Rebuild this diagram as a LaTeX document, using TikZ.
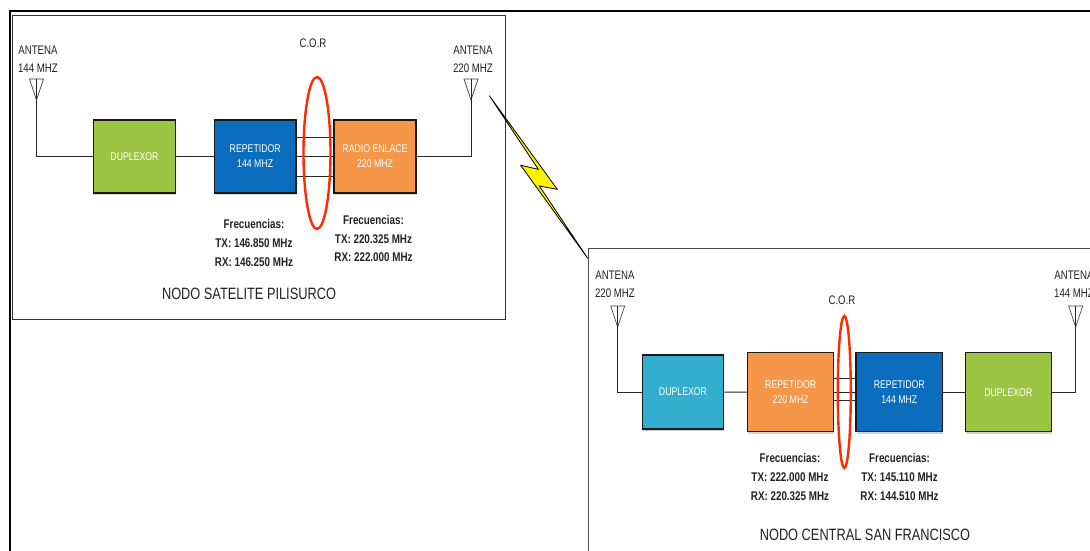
\documentclass[tikz,border=0pt]{standalone}
\usepackage{fontspec}
\setmainfont{Liberation Sans}[FakeStretch=0.78]
\usetikzlibrary{shadows}
\definecolor{bgreen}{HTML}{9DC544}
\definecolor{bblue}{HTML}{0B6DBE}
\definecolor{borange}{HTML}{F69649}
\definecolor{bcyan}{HTML}{33AECF}
\definecolor{cred}{HTML}{FF2A00}
\definecolor{txt}{HTML}{222222}
\tikzset{
  block/.style={draw=black!90,line width=1.2pt,inner sep=0pt,text=white,align=center,
    font=\fontsize{11.2}{15}\selectfont,
    drop shadow={shadow xshift=0.7pt,shadow yshift=-2pt,opacity=.35}},
  wire/.style={draw=black!85,line width=1pt},
  ant/.style={draw=black!75,line width=.7pt},
  cor/.style={draw=cred,line width=2.4pt,fill=none},
  lab/.style={text=txt,align=center,inner sep=0pt,font=\fontsize{12.4}{18.3}\selectfont},
  freq/.style={text=txt,align=center,inner sep=0pt,font=\fontsize{12.6}{18.8}\selectfont\bfseries},
  title/.style={text=txt,inner sep=0pt,font=\fontsize{16.4}{18}\selectfont},
}
\begin{document}
\begin{tikzpicture}[x=1pt,y=-1pt]
\useasboundingbox (0,0) rectangle (1090,551);
\clip (0,0) rectangle (1090,551);
\fill[white] (0,0) rectangle (1090,551);
% frames
\draw[black,line width=2pt] (10,560) -- (10,11.5) -- (1100,11.5);
\draw[black!80,line width=.9pt] (12.5,15) rectangle (505.5,319.5);
\draw[black!70,line width=.9pt] (588,560) -- (588,248) -- (1100,248);
% lightning
\coordinate (ltop) at (489.3,95.7);
\coordinate (lbot) at (587.7,258.3);
\filldraw[fill=yellow,draw=black,line width=.8pt,line join=miter]
  (ltop) -- (557.3,189.3) -- (539.3,186) -- (lbot) -- (520.7,165.3) -- (538.3,169.3) -- cycle;
% blocks
\node[block,fill=bgreen,minimum width=82pt,minimum height=73pt] (d1) at (134.5,156.5) {DUPLEXOR};
\node[block,fill=bblue,minimum width=81.5pt,minimum height=73pt] (r1) at (255.2,156.5) {REPETIDOR\\144 MHZ};
\node[block,fill=borange,minimum width=82pt,minimum height=73pt] (e1) at (375,156.5) {RADIO ENLACE\\220 MHZ};
\node[block,fill=bcyan,minimum width=81.5pt,minimum height=74pt] (d2) at (683,392) {DUPLEXOR};
\node[block,fill=borange,minimum width=86pt,minimum height=79pt] (r2) at (790.7,392.2) {REPETIDOR\\220 MHZ};
\node[block,fill=bblue,minimum width=86.7pt,minimum height=79pt] (r3) at (899.3,392.2) {REPETIDOR\\144 MHZ};
\node[block,fill=bgreen,minimum width=86pt,minimum height=79pt] (d3) at (1008.3,392.2) {DUPLEXOR};
% antennas
\coordinate (a1) at (36.5,79); \coordinate (a2) at (471,79);
\coordinate (a3) at (617.7,306); \coordinate (a4) at (1075.7,306);
\foreach \a in {a1,a2,a3,a4}{
  \draw[ant] ([xshift=-7pt]\a) -- ([xshift=7pt]\a) -- ([yshift=-21pt]\a) -- cycle;
}
% wires
\draw[wire] (a1) |- (d1.west);
\draw[wire] (d1.east) -- (r1.west);
\draw[wire] (a2) |- (e1.east);
\draw[wire] ([yshift=19.5pt]r1.east) -- ([yshift=19.5pt]e1.west);
\draw[wire] (r1.east) -- (e1.west);
\draw[wire] ([yshift=-20pt]r1.east) -- ([yshift=-20pt]e1.west);
\draw[wire] (a3) |- (d2.west);
\draw[wire] (d2.east) -- (r2.west);
\draw[wire] ([yshift=14pt]r2.east) -- ([yshift=14pt]r3.west);
\draw[wire] (r2.east) -- (r3.west);
\draw[wire] ([yshift=-8.5pt]r2.east) -- ([yshift=-8.5pt]r3.west);
\draw[wire] (r3.east) -- (d3.west);
\draw[wire] (a4) |- (d3.east);
% ellipses
\draw[cor] (317,153) ellipse [x radius=13.5pt,y radius=76pt];
\draw[cor] (844.3,392) ellipse [x radius=6.5pt,y radius=76pt];
% labels
\node[lab] (t1) at (38,59) {ANTENA\\144 MHZ};
\node[lab] (t2) at (473,59) {ANTENA\\220 MHZ};
\node[lab] (t3) at (313,43) {C.O.R};
\node[lab] (t4) at (615,284) {ANTENA\\220 MHZ};
\node[lab] (t5) at (1074,284) {ANTENA\\144 MHZ};
\node[lab] (t6) at (842,300) {C.O.R};
\node[freq] (f1) at (254,243) {Frecuencias:\\TX: 146.850 MHz\\RX: 146.250 MHz};
\node[freq] (f2) at (373.5,238.5) {Frecuencias:\\TX: 220.325 MHz\\RX: 222.000 MHz};
\node[freq] (f3) at (790,477) {Frecuencias:\\TX: 222.000 MHz\\RX: 220.325 MHz};
\node[freq] (f4) at (899.5,477) {Frecuencias:\\TX: 145.110 MHz\\RX: 144.510 MHz};
\node[title] (n1) at (249,294) {NODO SATELITE PILISURCO};
\node[title] (n2) at (865,535) {NODO CENTRAL SAN FRANCISCO};
\end{tikzpicture}
\end{document}
